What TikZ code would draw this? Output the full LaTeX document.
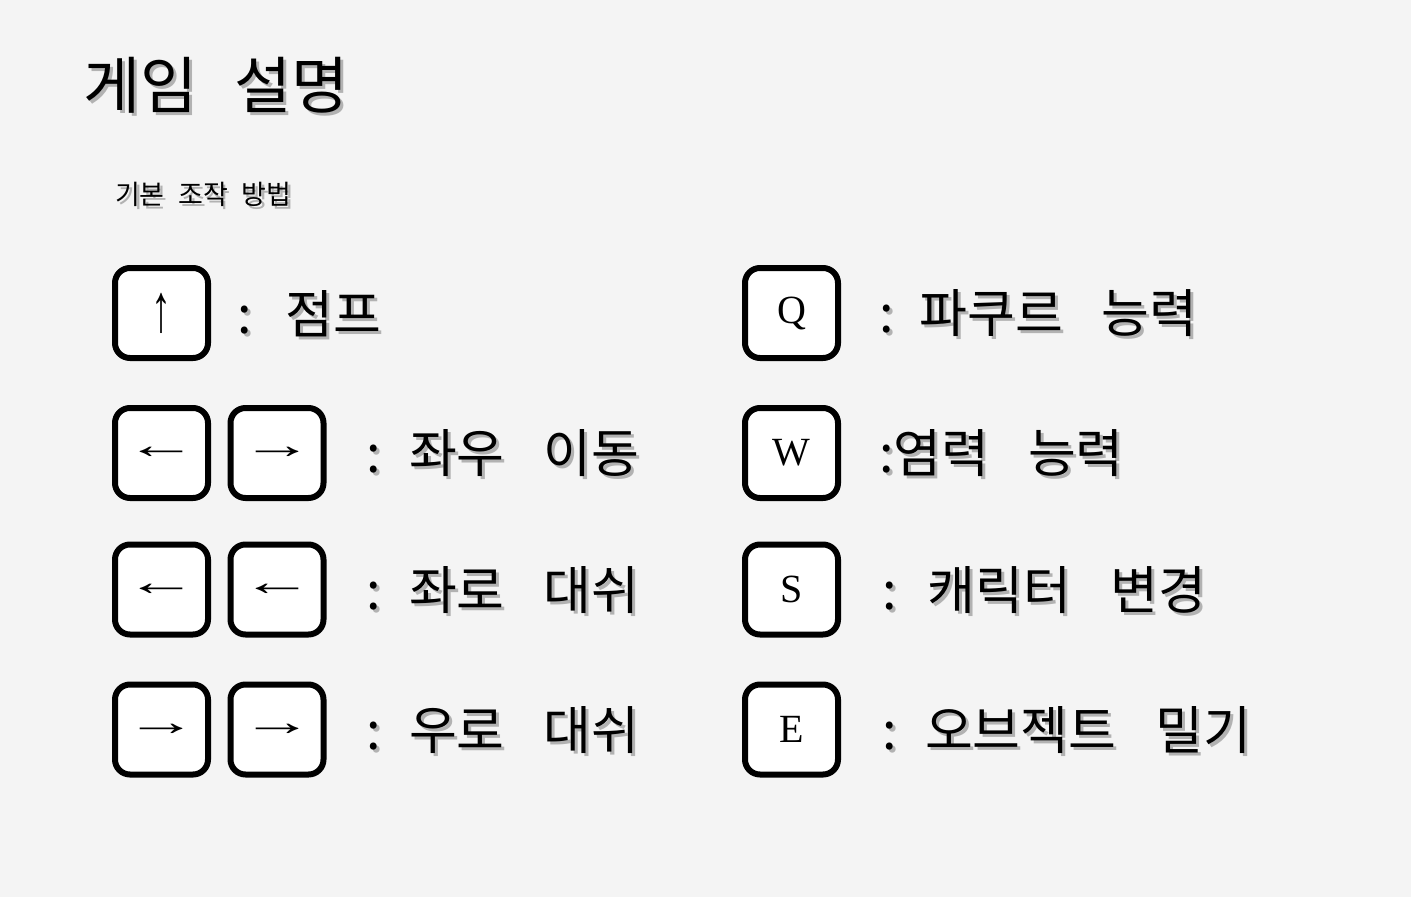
\documentclass[tikz,border=0pt]{standalone}
\usepackage{fontspec}
\usepackage{graphicx}
\setmainfont{Noto Sans CJK KR}
\newfontfamily\keyfont{Liberation Serif}
\definecolor{pagegray}{HTML}{F4F4F4}
\newcommand\shadowed[1]{\makebox[0pt][l]{\hspace{3pt}\raisebox{-3pt}{\textcolor{black!30}{#1}}}#1}
\newcommand\gap{\hspace{0.75em}}
\newcommand\wide[1]{\scalebox{1.8}[1]{#1}}
\newcommand\tall[1]{\scalebox{1}[1.7]{#1}}
\begin{document}
\begin{tikzpicture}[x=1pt, y=-1pt, every node/.style={inner sep=0pt, outer sep=0pt},
    keybox/.style={draw, line width=6pt, fill=white, rounded corners=15pt, minimum width=93pt, minimum height=90pt, font=\keyfont\fontsize{40}{40}\selectfont},
    label/.style={anchor=west, font=\fontsize{52}{52}\selectfont}]
        \fill[pagegray] (0,0) rectangle (1411,897);
        \node[anchor=west, font=\fontsize{62}{62}\selectfont] (title) at (83, 87) {\shadowed{게임\hspace{0.6em}설명}};
        \node[anchor=west, font=\fontsize{27}{27}\selectfont] (subtitle) at (115, 196) {\shadowed{기본\hspace{0.5em}조작\hspace{0.5em}방법}};
        % left column
        \node[keybox] (up) at (161.5, 313) {\tall{↑}};
        \node[label] (jump) at (237, 315) {\shadowed{:\hspace{0.65em}점프}};
        \node[keybox] (left1) at (161.5, 453) {\wide{←}};
        \node[keybox] (right1) at (277, 453) {\wide{→}};
        \node[label] (move) at (366, 455) {\shadowed{:\hspace{0.55em}좌우\gap 이동}};
        \node[keybox] (left2) at (161.5, 589.5) {\wide{←}};
        \node[keybox] (left3) at (277, 589.5) {\wide{←}};
        \node[label] (dashleft) at (366, 591.5) {\shadowed{:\hspace{0.55em}좌로\gap 대쉬}};
        \node[keybox] (right2) at (161.5, 729.5) {\wide{→}};
        \node[keybox] (right3) at (277, 729.5) {\wide{→}};
        \node[label] (dashright) at (366, 731.5) {\shadowed{:\hspace{0.55em}우로\gap 대쉬}};
        % right column
        \node[keybox] (keyq) at (791.5, 313) {Q};
        \node[label] (parkour) at (879, 315) {\shadowed{:\hspace{0.5em}파쿠르\gap 능력}};
        \node[keybox] (keyw) at (791.5, 453) {W};
        \node[label] (telekinesis) at (879, 455) {\shadowed{:염력\gap 능력}};
        \node[keybox] (keys) at (791.5, 589.5) {S};
        \node[label] (switch) at (882, 591.5) {\shadowed{:\hspace{0.6em}캐릭터\gap 변경}};
        \node[keybox] (keye) at (791.5, 729.5) {E};
        \node[label] (push) at (882, 731.5) {\shadowed{:\hspace{0.55em}오브젝트\gap 밀기}};
\end{tikzpicture}
\end{document}
